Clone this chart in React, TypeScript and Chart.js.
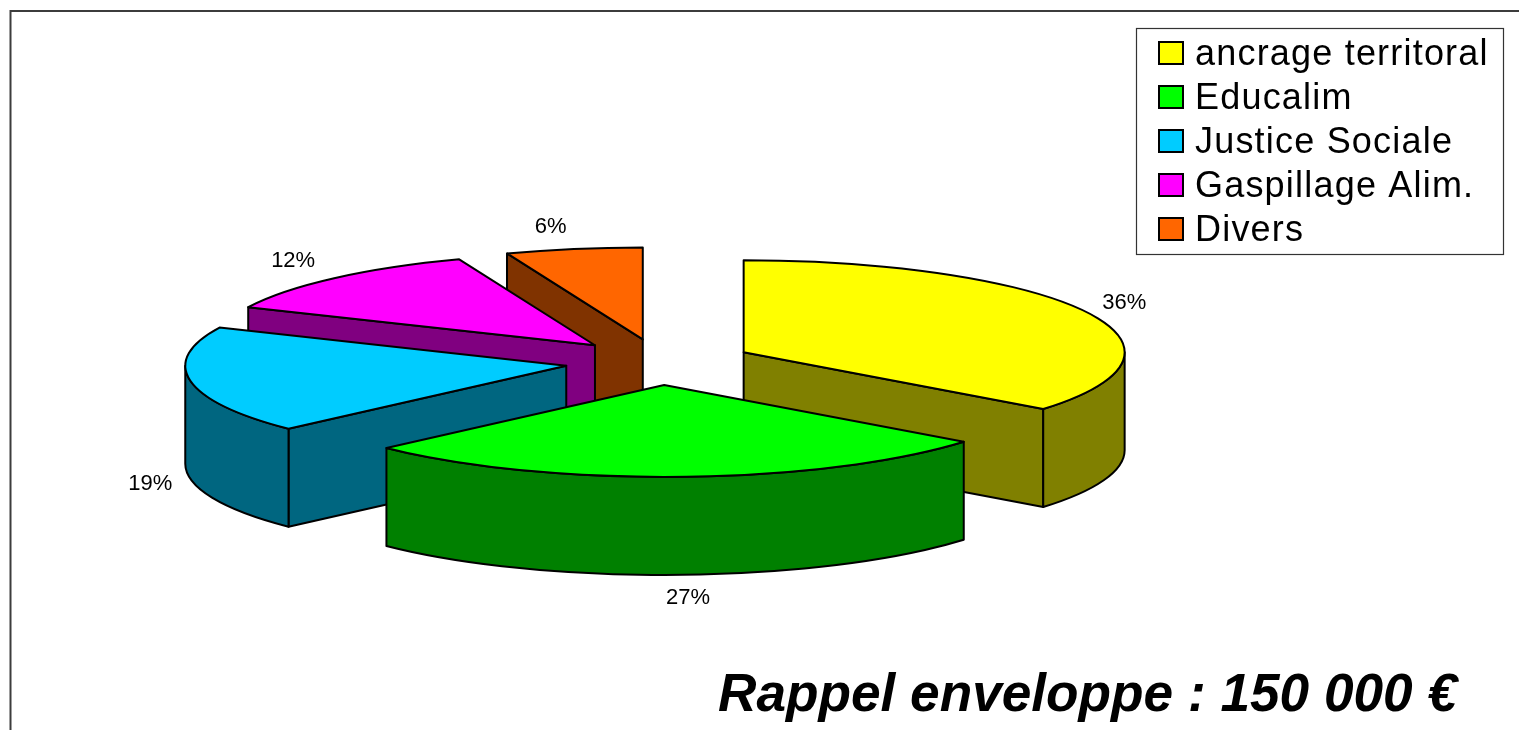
import React, { useEffect, useRef } from "react";
import { Chart, registerables } from "chart.js";

Chart.register(...registerables);

const categories = ["ancrage territoral", "Educalim", "Justice Sociale", "Gaspillage Alim.", "Divers"];
const shares = [35.6, 27.4, 18.8, 12.4, 5.8];
const topColours = ["#FFFF00", "#00FF00", "#00CCFF", "#FF00FF", "#FF6600"];
const sideColours = ["#808000", "#008000", "#006680", "#800080", "#803300"];
const explode = [93, 95, 95, 95, 95];
const titleText = "Rappel enveloppe : 150 000 €";

const SANS = '"Liberation Sans", Arial, sans-serif';

const pie3d = {
  id: "pie3d",
  beforeDatasetDraw(chart: any, args: any, opts: any) {
    const ctx = chart.ctx;
    const arcs: any[] = chart.getDatasetMeta(args.index).data;
    const { squash, depth, labelShiftX, labelShiftY } = opts;
    const slices = arcs.map((arc, i) => {
      const p = arc.getProps(["x", "y", "startAngle", "endAngle", "outerRadius"], true);
      const mid = (p.startAngle + p.endAngle) / 2;
      const offset = arc.options.offset;
      return {
        i,
        mid,
        a: p.startAngle,
        b: p.endAngle,
        r: p.outerRadius,
        x: p.x + Math.cos(mid) * offset,
        y: p.y + Math.sin(mid) * offset * squash,
      };
    });
    const order = [...slices].sort((s, t) => s.y - t.y);
    ctx.save();
    ctx.lineWidth = 2;
    ctx.lineJoin = "round";
    ctx.strokeStyle = "#000";
    const paint = (fill: string) => {
      ctx.fillStyle = fill;
      ctx.fill();
      ctx.stroke();
    };
    for (const s of order) {
      const ry = s.r * squash;
      const px = (t: number) => s.x + s.r * Math.cos(t);
      const py = (t: number) => s.y + ry * Math.sin(t);
      const side = sideColours[s.i];
      const wall = (t: number) => {
        ctx.beginPath();
        ctx.moveTo(s.x, s.y);
        ctx.lineTo(px(t), py(t));
        ctx.lineTo(px(t), py(t) + depth);
        ctx.lineTo(s.x, s.y + depth);
        ctx.closePath();
        paint(side);
      };
      if (Math.cos(s.a) < -1e-6) wall(s.a);
      if (Math.cos(s.b) > 1e-6) wall(s.b);
      // curved rim: only the part of the arc that faces the viewer (0..PI)
      const TAU = Math.PI * 2;
      for (const k of [-1, 0, 1]) {
        const from = Math.max(s.a, k * TAU);
        const to = Math.min(s.b, k * TAU + Math.PI);
        if (to > from) {
          ctx.beginPath();
          ctx.ellipse(s.x, s.y, s.r, ry, 0, from, to);
          ctx.lineTo(px(to), py(to) + depth);
          ctx.ellipse(s.x, s.y + depth, s.r, ry, 0, to, from, true);
          ctx.closePath();
          paint(side);
        }
      }
      // top face
      ctx.beginPath();
      ctx.moveTo(s.x, s.y);
      ctx.ellipse(s.x, s.y, s.r, ry, 0, s.a, s.b);
      ctx.closePath();
      paint(topColours[s.i]);
    }
    // percentage labels
    ctx.fillStyle = "#000";
    ctx.font = `22px ${SANS}`;
    ctx.textAlign = "center";
    ctx.textBaseline = "middle";
    for (const s of slices) {
      const lower = Math.sin(s.mid) > 0.1 ? depth : 0;
      const lx = s.x + s.r * Math.cos(s.mid) + labelShiftX[s.i];
      const ly = s.y + s.r * squash * Math.sin(s.mid) + lower + labelShiftY[s.i];
      ctx.fillText(`${Math.round(shares[s.i])}%`, lx, ly);
    }
    ctx.restore();
    return false;
  },
  afterDraw(chart: any) {
    const ctx = chart.ctx;
    ctx.save();
    // outer frame (open to the right and bottom)
    ctx.strokeStyle = "#3c3c3c";
    ctx.lineWidth = 2;
    ctx.beginPath();
    ctx.moveTo(10.5, 730);
    ctx.lineTo(10.5, 11);
    ctx.lineTo(1519, 11);
    ctx.stroke();
    // legend
    ctx.fillStyle = "#fff";
    ctx.strokeStyle = "#333";
    ctx.lineWidth = 1.2;
    ctx.fillRect(1136.5, 28.5, 367, 226);
    ctx.strokeRect(1136.5, 28.5, 367, 226);
    ctx.font = `36px ${SANS}`;
    ctx.textAlign = "left";
    ctx.textBaseline = "alphabetic";
    ctx.letterSpacing = "1.2px";
    categories.forEach((name, i) => {
      const y = 53 + i * 44;
      ctx.fillStyle = topColours[i];
      ctx.strokeStyle = "#000";
      ctx.lineWidth = 2;
      ctx.fillRect(1159, y - 11, 24, 22);
      ctx.strokeRect(1159, y - 11, 24, 22);
      ctx.fillStyle = "#000";
      ctx.fillText(name, 1195, y + 12);
    });
    ctx.letterSpacing = "0px";
    // title
    ctx.font = `italic bold 53.2px ${SANS}`;
    ctx.textAlign = "left";
    ctx.textBaseline = "alphabetic";
    ctx.fillText(titleText, 718, 711);
    ctx.restore();
  },
};

export default function App() {
  const ref = useRef<HTMLCanvasElement>(null);
  useEffect(() => {
    const chart = new Chart(ref.current!, {
      type: "pie",
      data: {
        labels: categories,
        datasets: [
          {
            data: shares,
            backgroundColor: topColours,
            borderColor: "#000",
            borderWidth: 1,
            offset: explode,
          },
        ],
      },
      options: {
        animation: false,
        responsive: false,
        radius: 381,
        layout: { padding: { left: 0, right: 199, top: 0, bottom: 6 } },
        plugins: {
          legend: { display: false },
          tooltip: { enabled: false },
          pie3d: {
            squash: 0.2415,
            depth: 98,
            labelShiftX: [38, 7, -40, -41, -23],
            labelShiftY: [-9, 23, 5, -17, -22],
          },
        },
      } as any,
      plugins: [pie3d as any],
    });
    return () => chart.destroy();
  }, []);
  return (
    <div style={{ position: "absolute", left: 0, top: 0, width: 1519, height: 730, background: "#fff" }}>
      <canvas ref={ref} width={1519} height={730} style={{ display: "block" }} />
    </div>
  );
}
